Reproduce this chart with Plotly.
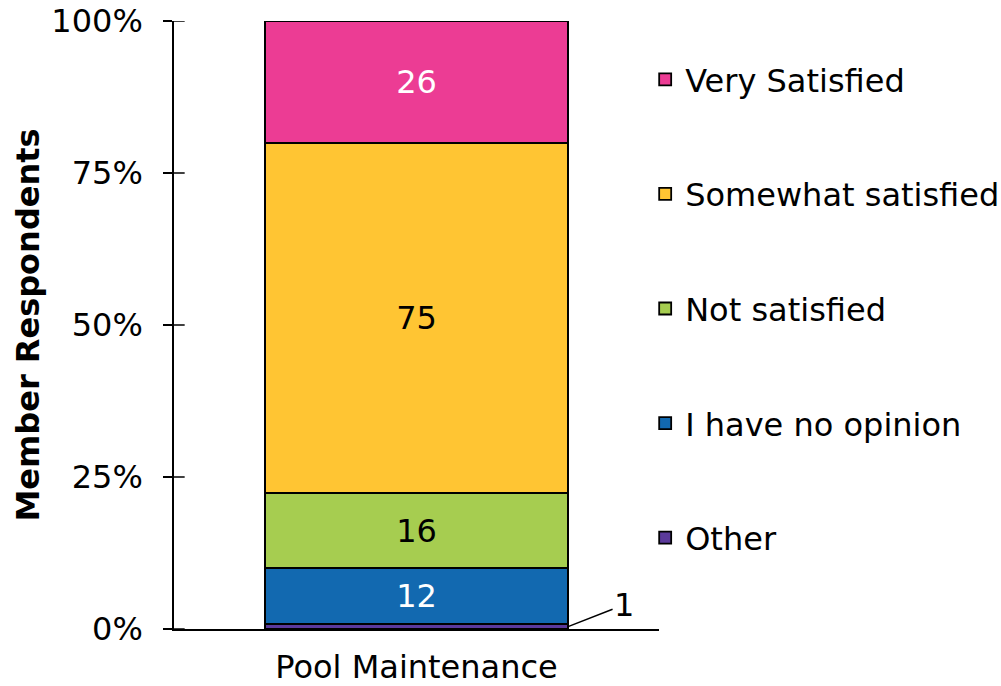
import plotly.graph_objects as go

categories = ["Pool Maintenance"]
series_names = ["Other", "I have no opinion", "Not satisfied", "Somewhat satisfied", "Very Satisfied"]
series_values = [[1], [12], [16], [75], [26]]
series_colors = ["#5B3A9B", "#1269B0", "#A6CD50", "#FFC533", "#EC3C94"]
label_colors = ["#000000", "#FFFFFF", "#000000", "#000000", "#FFFFFF"]
y_tickvals = [0, 25, 50, 75, 100]
y_ticktext = ["0%", "25%", "50%", "75%", "100%"]

FONT = "DejaVu Sans, Verdana, sans-serif"
FS = 32

fig = go.Figure()
n = len(series_names)
for i, (name, vals, col, lc) in enumerate(zip(series_names, series_values, series_colors, label_colors)):
    show_text = name != "Other"
    fig.add_trace(go.Bar(
        x=categories, y=vals, name=name,
        marker=dict(color=col, line=dict(color="#000000", width=1.8)),
        text=[str(v) for v in vals] if show_text else None,
        textposition="inside" if show_text else "none",
        insidetextanchor="middle",
        textfont=dict(color=lc, size=FS, family=FONT),
        legendgroup=name,
        legendrank=n - i,
        width=0.625,
        hoverinfo="skip",
    ))

total = sum(v[0] for v in series_values)
other_pct = series_values[0][0] / total * 100

fig.add_annotation(
    x=0.3125, y=other_pct / 2, xref="x", yref="y",
    text=str(series_values[0][0]), showarrow=True, arrowhead=0, arrowwidth=1.5,
    arrowcolor="#000000", ax=56, ay=-22, xanchor="center",
    font=dict(size=FS, family=FONT, color="#000000"),
)

# inner halves of the y tick marks (ticks cross the axis line)
for tv in y_tickvals:
    fig.add_shape(type="line", xref="paper", yref="y", x0=0, x1=0.022, y0=tv, y1=tv,
                  line=dict(color="#000000", width=1.5))

fig.update_layout(
    barmode="stack", barnorm="percent",
    width=1001, height=686,
    margin=dict(l=174, r=342, t=21, b=57, autoexpand=False),
    paper_bgcolor="white", plot_bgcolor="white",
    font=dict(family=FONT, size=FS, color="#000000"),
    showlegend=True,
    legend=dict(
        x=0.9715, xanchor="left", y=0.949, yanchor="top",
        traceorder="grouped", tracegroupgap=70,
        itemwidth=30, font=dict(size=FS, family=FONT, color="#000000"),
        bgcolor="rgba(0,0,0,0)",
    ),
    xaxis=dict(
        type="category", range=[-0.5, 0.5], showline=True, linecolor="#000000", linewidth=2,
        ticks="", showgrid=False, zeroline=False, ticklabelstandoff=9, automargin=False,
        tickfont=dict(size=FS, family=FONT),
    ),
    yaxis=dict(
        range=[0, 100], tickvals=y_tickvals, ticktext=y_ticktext,
        showline=True, linecolor="#000000", linewidth=1.5,
        ticks="outside", ticklen=9, tickwidth=1.5, tickcolor="#000000",
        showgrid=False, zeroline=False, ticklabelstandoff=14, automargin=True,
        title=dict(text="<b>Member Respondents</b>", font=dict(size=FS, family=FONT), standoff=2),
    ),
)

fig.write_html("out.html", config={"displayModeBar": False},
               post_script="document.body.style.margin='0';document.body.style.overflow='hidden';")
